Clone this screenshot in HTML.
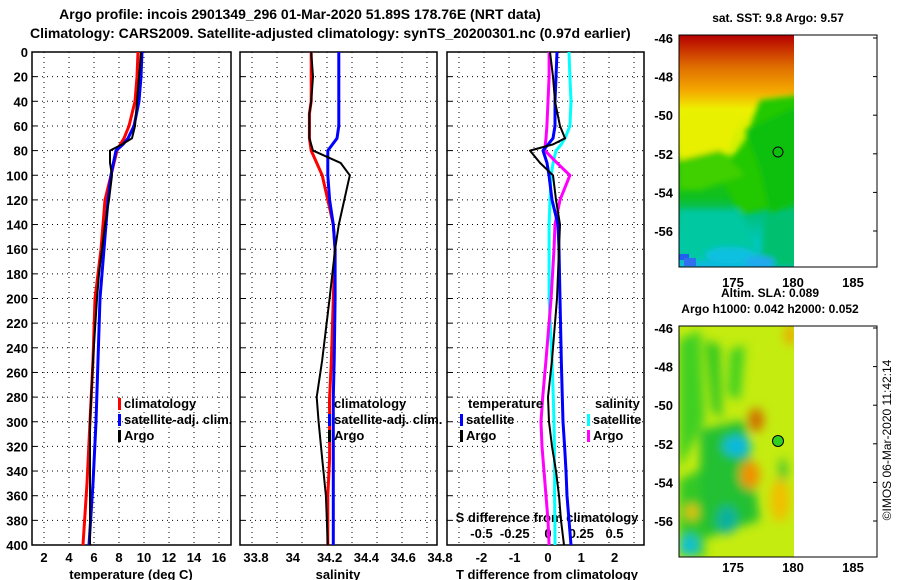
<!DOCTYPE html>
<html><head><meta charset="utf-8"><style>
html,body{margin:0;padding:0;background:#fff}
svg{display:block;font-family:"Liberation Sans",Arial,sans-serif;font-weight:bold}
</style></head><body>
<svg id="c" width="900" height="580" viewBox="0 0 900 580" xmlns="http://www.w3.org/2000/svg">
<defs>
<filter id="bl" x="-20%" y="-20%" width="140%" height="140%"><feGaussianBlur stdDeviation="5"/></filter>
<filter id="bl2" x="-20%" y="-20%" width="140%" height="140%"><feGaussianBlur stdDeviation="3"/></filter>
<clipPath id="m1"><rect x="679" y="35" width="115" height="232"/></clipPath>
<clipPath id="m2"><rect x="679" y="326" width="115" height="231"/></clipPath>
<linearGradient id="sst" x1="0" y1="0" x2="0" y2="1">
<stop offset="0" stop-color="#b40000"/><stop offset="0.06" stop-color="#c83000"/>
<stop offset="0.14" stop-color="#e07000"/><stop offset="0.24" stop-color="#f4a800"/>
<stop offset="0.32" stop-color="#eef000"/><stop offset="0.5" stop-color="#c8f000"/>
<stop offset="0.56" stop-color="#20c800"/><stop offset="0.7" stop-color="#10c020"/>
<stop offset="0.78" stop-color="#00c080"/><stop offset="0.9" stop-color="#00c8c0"/>
<stop offset="1" stop-color="#10b8e0"/></linearGradient>
</defs>
<text x="300" y="19" text-anchor="middle" font-size="14">Argo profile: incois 2901349_296 01-Mar-2020 51.89S 178.76E (NRT data)</text>
<text x="30" y="38" font-size="14">Climatology: CARS2009. Satellite-adjusted climatology: synTS_20200301.nc (0.97d earlier)</text>
<g id="plots"></g>
<g id="maps">
 <text x="778" y="22" text-anchor="middle" font-size="12">sat. SST: 9.8 Argo: 9.57</text>
 <g clip-path="url(#m1)">
  <rect x="679" y="35" width="115" height="232" fill="url(#sst)"/>
  <g filter="url(#bl2)">
   <path d="M760 100 L800 95 L800 200 L740 215 L720 175 L745 140 Z" fill="#20c800"/>
   <path d="M679 110 L740 110 L730 150 L679 160 Z" fill="#e8f000"/>
   <path d="M679 160 L720 150 L745 175 L700 190 L679 190Z" fill="#40d000"/>
   <path d="M745 130 L800 105 L800 200 L770 215 L760 170Z" fill="#10c010"/>
   <path d="M679 210 L740 210 L760 260 L679 260Z" fill="#00c8a0"/>
   <path d="M765 215 L800 215 L800 267 L760 267Z" fill="#00c070"/>
   <ellipse cx="730" cy="255" rx="25" ry="8" fill="#10c0e0"/>
   <ellipse cx="760" cy="262" rx="15" ry="6" fill="#20a8f0"/>
  </g>
  <rect x="679" y="254" width="10" height="6" fill="#2060f0"/>
  <rect x="684" y="258" width="12" height="8" fill="#3070f0"/>
 </g>
 <rect x="679" y="35" width="198" height="232" fill="none" stroke="#000"/>
 <circle cx="778" cy="152" r="5" fill="none" stroke="#000"/>

 <text x="770" y="297" text-anchor="middle" font-size="12">Altim. SLA: 0.089</text>
 <text x="770" y="313" text-anchor="middle" font-size="12">Argo h1000: 0.042 h2000: 0.052</text>
 <g clip-path="url(#m2)">
  <rect x="679" y="326" width="115" height="231" fill="#c4ec10"/>
  <g filter="url(#bl)">
   <path d="M679 340 L700 330 L705 420 L679 470Z" fill="#40d020"/>
   <path d="M705 340 L720 345 L722 420 L712 410Z" fill="#30c820"/>
   <path d="M730 350 L745 345 L740 400 L728 395Z" fill="#40d020"/>
   <path d="M700 430 L745 420 L760 520 L700 540Z" fill="#20c030"/>
   <path d="M679 480 L700 470 L705 557 L679 557Z" fill="#30c828"/>
   <ellipse cx="737" cy="446" rx="14" ry="10" fill="#10b8e0"/>
   <ellipse cx="727" cy="520" rx="10" ry="14" fill="#10b0a0"/>
   <ellipse cx="689" cy="545" rx="10" ry="10" fill="#10c0d0"/>
   <ellipse cx="756" cy="420" rx="8" ry="12" fill="#d07000"/>
   <ellipse cx="750" cy="475" rx="10" ry="14" fill="#f09000"/>
   <ellipse cx="780" cy="500" rx="10" ry="22" fill="#f0c000"/>
   <ellipse cx="790" cy="335" rx="5" ry="10" fill="#f0a000"/>
   <ellipse cx="692" cy="512" rx="6" ry="8" fill="#f0c000"/>
   <ellipse cx="783" cy="470" rx="4" ry="12" fill="#40c030"/>
  </g>
 </g>
 <rect x="679" y="326" width="198" height="231" fill="none" stroke="#000"/>
 <circle cx="778" cy="441" r="5.5" fill="#30d020" stroke="#000"/>
 <text transform="translate(891,440) rotate(-90)" text-anchor="middle" font-size="12" font-weight="normal">©IMOS 06-Mar-2020 11:42:14</text>
</g>
</svg>
<script>
// Depth grid shared by all profiles
var depths=[0,20,40,60,70,75,80,90,100,120,140,160,180,200,250,300,350,400];
// Panel 1 temperature (deg C)
var tempClim=[9.52,9.44,9.28,8.8,8.4,8.1,7.84,7.6,7.36,6.88,6.72,6.56,6.32,6.08,5.92,5.68,5.44,5.12];
var tempSat=[9.84,9.76,9.6,9.2,8.72,8.32,7.76,7.55,7.36,7.12,6.96,6.8,6.64,6.48,6.32,6.16,5.92,5.6];
var tempArgo=[9.76,9.6,9.44,9.28,9.04,8.24,7.28,7.28,7.44,7.2,6.88,6.64,6.4,6.24,5.92,5.68,5.68,5.68];
// Panel 2 salinity
var salDepths=[0,20,40,50,60,70,80,90,100,120,140,160,200,250,280,300,330,360,400];
var salClim=[34.1,34.1,34.1,34.09,34.09,34.09,34.1,34.13,34.16,34.19,34.22,34.23,34.22,34.21,34.2,34.2,34.2,34.19,34.19];
var salSat=[34.25,34.25,34.25,34.25,34.25,34.24,34.19,34.19,34.19,34.2,34.22,34.23,34.23,34.225,34.22,34.22,34.22,34.22,34.22];
var salArgo=[34.1,34.11,34.1,34.09,34.09,34.09,34.11,34.26,34.31,34.28,34.25,34.23,34.2,34.16,34.13,34.14,34.16,34.18,34.19];
// Panel 3 differences from climatology
var dDepths=[0,20,40,60,70,75,80,90,100,120,140,160,200,250,280,300,320,340,360,380,400];
var dTSat=[0.27,0.24,0.21,0.21,0.15,0.0,-0.15,-0.03,0.03,0.12,0.3,0.33,0.36,0.4,0.43,0.45,0.5,0.54,0.57,0.63,0.69];
var dTArgo=[0.06,0.15,0.21,0.36,0.51,0.15,-0.54,-0.24,0.15,0.24,0.36,0.33,0.27,0.12,0.0,0.03,0.12,0.24,0.33,0.39,0.48];
var dSSat=[0.158,0.165,0.173,0.165,0.128,0.1,0.06,0.038,0.023,0.015,0.008,0.008,0.008,0.03,0.04,0.045,0.048,0.05,0.05,0.052,0.053];
var dSArgo=[0.008,0.008,0,-0.008,-0.015,-0.02,-0.023,0.068,0.165,0.09,0.053,0.045,0.023,-0.015,-0.04,-0.053,-0.045,-0.03,-0.015,0,0.008];
var depthTicks=[0,20,40,60,80,100,120,140,160,180,200,220,240,260,280,300,320,340,360,380,400];
var tTicks=[2,4,6,8,10,12,14,16];
var sTicks=[33.8,34,34.2,34.4,34.6,34.8];
var dtTicks=[-2,-1,0,1,2];
var dsTicks=[-0.5,-0.25,0,0.25,0.5];
var dsTickLabels=['-0.5','-0.25','0','0.25','0.5'];

var NS='http://www.w3.org/2000/svg';
var G=document.getElementById('plots');
function mk(t,a,p){var e=document.createElementNS(NS,t);for(var k in a)e.setAttribute(k,a[k]);(p||G).appendChild(e);return e;}
var Y0=52,Y1=545;
function yS(d){return Y0+d*(Y1-Y0)/400;}
function x1(t){return 44+(t-2)*12.5;}
function x2(s){return 256+(s-33.8)*184;}
function x3t(v){return 548+v*33.3;}
function x3s(v){return 548+v*133;}
var panels=[[32,231],[240,437],[447,644]];
panels.forEach(function(p,i){
  var g=mk('g',{});
  
  
  depthTicks.forEach(function(d){
    var l=mk('line',{x1:p[0],x2:p[1],y1:yS(d),y2:yS(d),stroke:'#000','stroke-dasharray':'1,4','stroke-width':1},g);
    
    
    var tk=mk('line',{x1:p[0],x2:p[0]+5,y1:yS(d),y2:yS(d),stroke:'#000'},g);
    
    
  });
  for(var k=0;k<8;k++){
    var gx=p[0]+12+k*25;
    if(gx<p[1]-2){var v=mk('line',{x1:gx,x2:gx,y1:Y0,y2:Y1,stroke:'#000','stroke-dasharray':'1,4'},g);
    
    }
  }
  var r=mk('rect',{x:p[0],y:Y0,width:p[1]-p[0],height:Y1-Y0,fill:'none',stroke:'#000','stroke-width':1.5},g);
  
  
});
depthTicks.forEach(function(d){
  var t=mk('text',{x:28,y:yS(d)+5,'text-anchor':'end','font-size':13});
  t.textContent=d;
  
  
});
function lab(x,y,s,name,fs,anchor){var t=mk('text',{x:x,y:y,'text-anchor':anchor||'middle','font-size':fs||13});t.textContent=s;
  
  return t;}
tTicks.forEach(function(v){lab(x1(v),562,v,'temperature-tick-label');});
sTicks.forEach(function(v){lab(x2(v),562,v,'salinity-tick-label');});
dtTicks.forEach(function(v){lab(x3t(v),562,v,'t-diff-tick-label');});
dsTicks.forEach(function(v,i){lab(x3s(v),538,dsTickLabels[i],'s-diff-tick-label');});
lab(131,579,'temperature (deg C)','temperature-axis-title');
lab(338,579,'salinity','salinity-axis-title');
lab(547,579,'T difference from climatology','t-diff-axis-title');
lab(547,522,'S difference from climatology','s-diff-axis-title');

function line(xs,ds,fx,col,w,name){
  var pts=xs.map(function(v,i){return fx(v).toFixed(1)+','+yS(ds[i]).toFixed(1);}).join(' ');
  var pl=mk('polyline',{points:pts,fill:'none',stroke:col,'stroke-width':w,'stroke-linejoin':'round'});
  
  
}
line(tempClim,depths,x1,'#ff0000',3,'temp-climatology-line');
line(tempSat,depths,x1,'#0000ff',3,'temp-satellite-line');
line(tempArgo,depths,x1,'#000',2,'temp-argo-line');
line(salClim,salDepths,x2,'#ff0000',3,'sal-climatology-line');
line(salSat,salDepths,x2,'#0000ff',3,'sal-satellite-line');
line(salArgo,salDepths,x2,'#000',2,'sal-argo-line');
line(dSSat,dDepths,x3s,'#00ffff',3,'s-diff-satellite-line');
line(dSArgo,dDepths,x3s,'#ff00ff',3,'s-diff-argo-line');
line(dTSat,dDepths,x3t,'#0000ff',3,'t-diff-satellite-line');
line(dTArgo,dDepths,x3t,'#000',2,'t-diff-argo-line');

function leg(x,y,col,txt,name){
  var b=mk('rect',{x:x,y:y-10,width:3,height:12,fill:col});
  
  
  lab(x+6,y,txt,name,13,'start');
}
[[118,'#ff0000','climatology'],[118,'#0000ff','satellite-adj. clim.'],[118,'#000','Argo']].forEach(function(e,i){leg(e[0],408+i*16,e[1],e[2],'temp-legend-entry');});
[[328,'#ff0000','climatology'],[328,'#0000ff','satellite-adj. clim.'],[328,'#000','Argo']].forEach(function(e,i){leg(e[0],408+i*16,e[1],e[2],'sal-legend-entry');});
lab(468,408,'temperature','diff-legend-temperature-heading',13,'start');
lab(595,408,'salinity','diff-legend-salinity-heading',13,'start');
leg(460,424,'#0000ff','satellite','diff-legend-t-satellite');
leg(460,440,'#000','Argo','diff-legend-t-argo');
leg(587,424,'#00ffff','satellite','diff-legend-s-satellite');
leg(587,440,'#ff00ff','Argo','diff-legend-s-argo');

// map axes
var M=document.getElementById('maps');
function mapAxes(base,lat0y){
  [-46,-48,-50,-52,-54,-56].forEach(function(lat){
    var y=lat0y+(-46-lat)*19.3;
    var t=mk('text',{x:673,y:y+5,'text-anchor':'end','font-size':13},M);t.textContent=lat;
    
    
    mk('line',{x1:873,x2:877,y1:y,y2:y,stroke:'#000'},M);
  });
  [175,180,185].forEach(function(lon){
    var x=733+(lon-175)*12;
    var t=mk('text',{x:x,y:base,'text-anchor':'middle','font-size':13},M);t.textContent=lon;
    
    
  });
}
mapAxes(287,38);
mapAxes(572,328);
</script>
</body></html>
